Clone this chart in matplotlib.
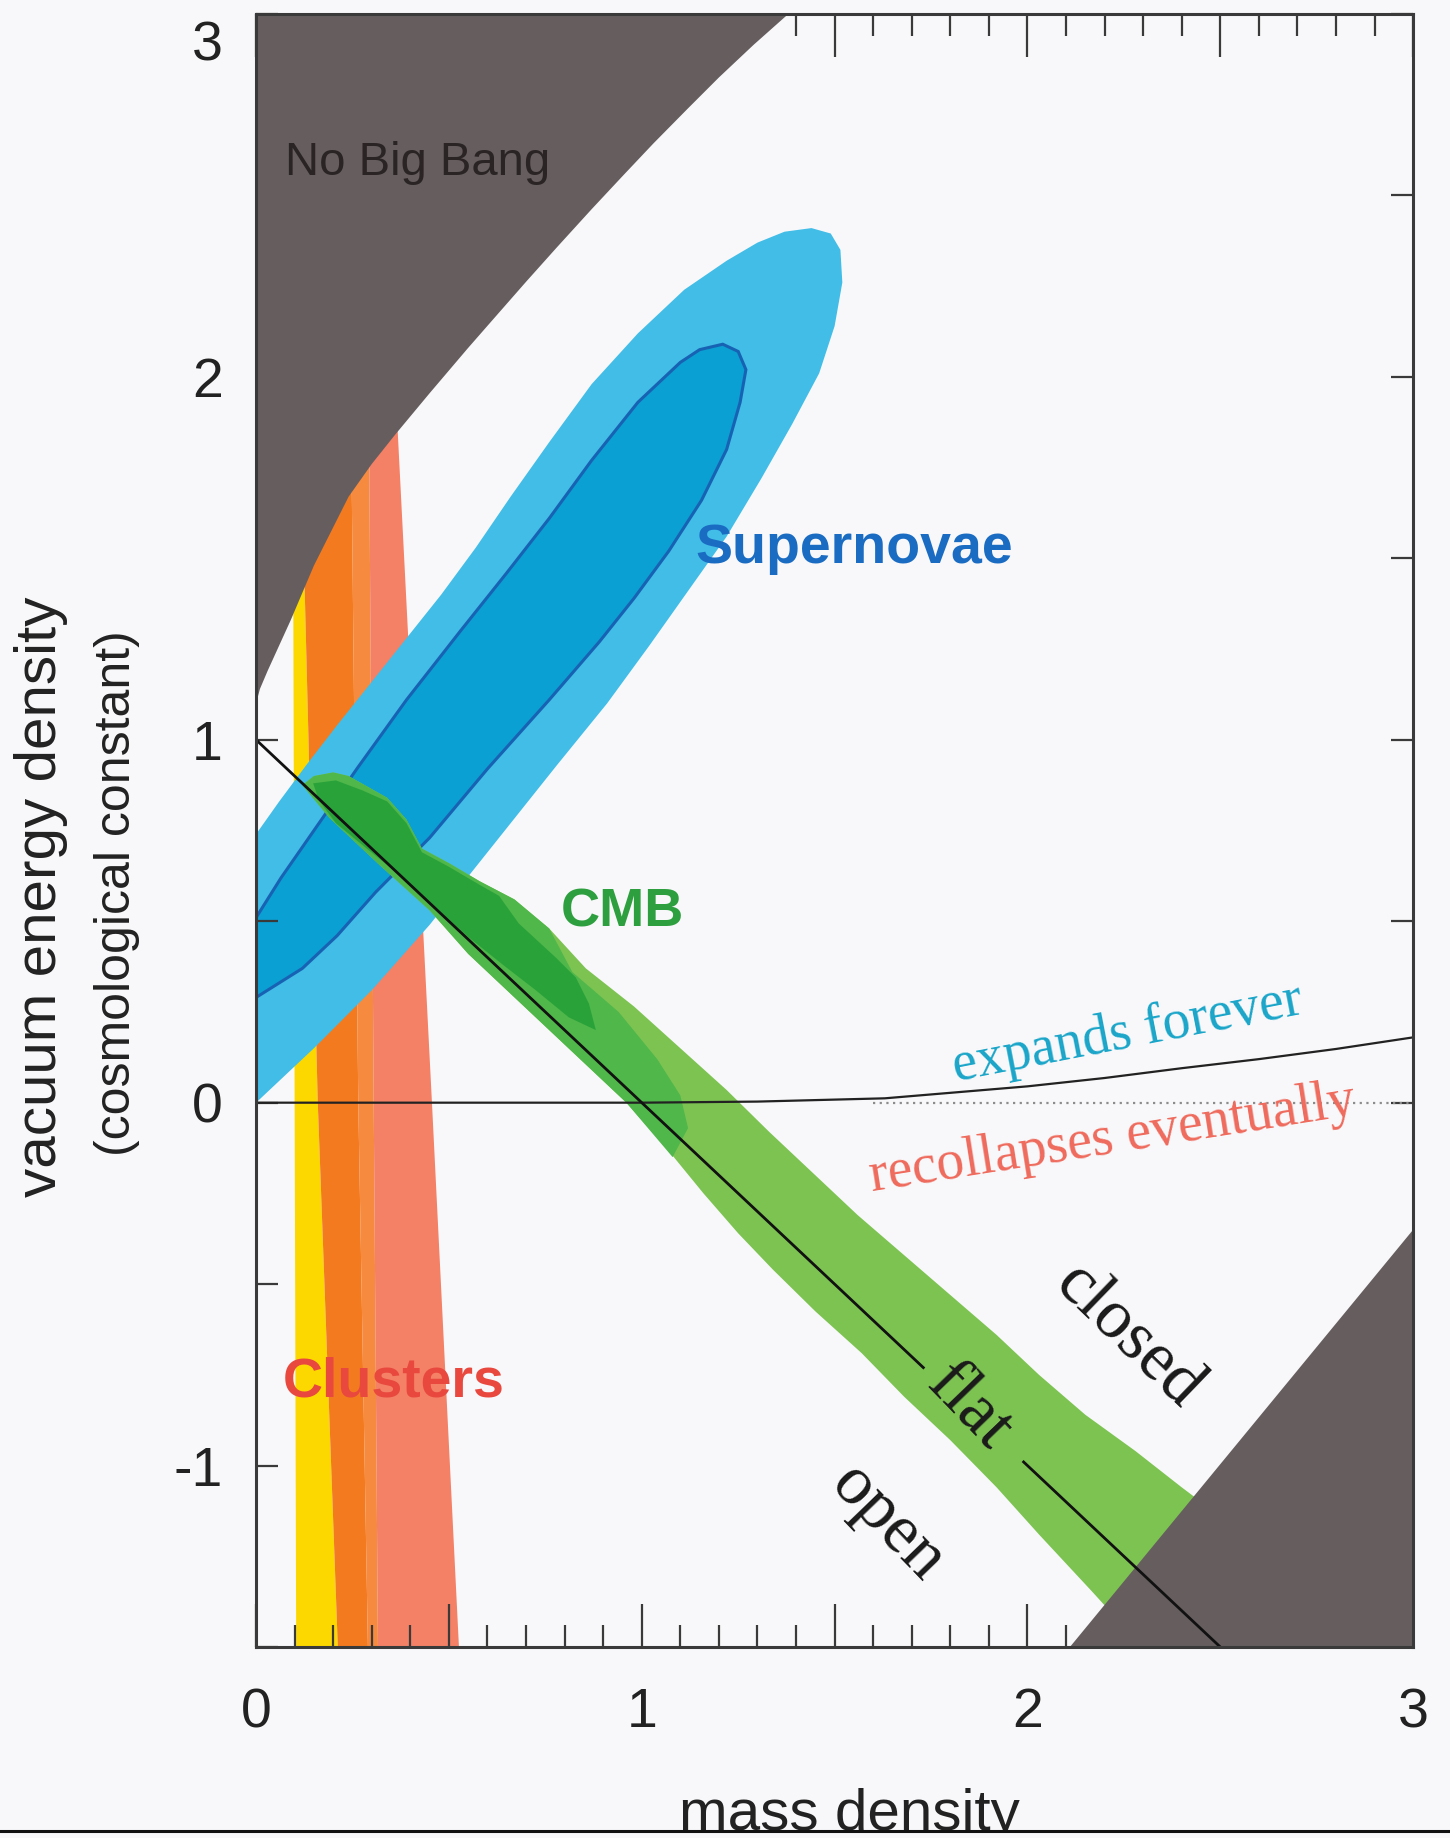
import matplotlib
matplotlib.use('Agg')
import matplotlib.pyplot as plt
from matplotlib.ticker import MultipleLocator, FuncFormatter
from matplotlib.patches import Rectangle

plt.rcParams['font.family'] = ['Liberation Sans', 'DejaVu Sans']
plt.rcParams['axes.unicode_minus'] = False

# --- values (x = mass density, y = vacuum energy density) ---

# "No Big Bang" boundary (top left)
NBB_X = [0.00, 0.01, 0.03, 0.06, 0.09, 0.15, 0.24, 0.30, 0.36, 0.45, 0.55, 0.62, 0.70, 0.78,
         0.87, 0.95, 1.03, 1.12, 1.20, 1.29, 1.38]
NBB_Y = [1.10, 1.14, 1.19, 1.26, 1.33, 1.48, 1.67, 1.76, 1.84, 1.955, 2.08, 2.165, 2.262, 2.357,
         2.462, 2.553, 2.643, 2.74, 2.825, 2.915, 3.00]

# dark corner bottom right
CORNER_X = [2.11, 3.0, 3.0]
CORNER_Y = [-1.5, -0.35, -1.5]

# clusters: band edges at these heights
CL_Y = [-1.5, 0.0, 2.0]
CL_YELLOW_L = [0.104, 0.100, 0.095]
CL_YELLOW_R = [0.212, 0.160, 0.112]
CL_ORANGE_R = [0.290, 0.265, 0.245]
CL_SALMON_L = [0.316, 0.305, 0.292]
CL_SALMON_R = [0.526, 0.456, 0.360]

# supernovae contours
SN_OUT_X = [0.00, 0.15, 0.30, 0.45, 0.60, 0.78, 0.91, 1.02, 1.12, 1.22, 1.31, 1.39, 1.46, 1.50,
            1.52, 1.515, 1.49, 1.44, 1.37, 1.30, 1.22, 1.11, 0.99, 0.87, 0.76, 0.66, 0.57,
            0.48, 0.39, 0.30, 0.21, 0.13, 0.06, 0.00]
SN_OUT_Y = [0.00, 0.15, 0.31, 0.49, 0.69, 0.93, 1.10, 1.26, 1.41, 1.56, 1.72, 1.87, 2.01, 2.14,
            2.26, 2.35, 2.395, 2.41, 2.40, 2.37, 2.32, 2.24, 2.12, 1.98, 1.82, 1.67, 1.53,
            1.40, 1.28, 1.16, 1.04, 0.93, 0.83, 0.74]
SN_IN_X = [0.00, 0.12, 0.21, 0.31, 0.45, 0.60, 0.76, 0.89, 0.98, 1.07, 1.155, 1.22, 1.255, 1.27,
           1.25, 1.21, 1.15, 1.10, 0.99, 0.87, 0.76, 0.65, 0.53, 0.39, 0.264, 0.15, 0.065, 0.00]
SN_IN_Y = [0.29, 0.37, 0.46, 0.58, 0.73, 0.92, 1.11, 1.27, 1.39, 1.52, 1.66, 1.80, 1.93, 2.02,
           2.07, 2.09, 2.075, 2.04, 1.93, 1.77, 1.61, 1.46, 1.30, 1.11, 0.924, 0.75, 0.62, 0.51]

# CMB band: upper edge (top to bottom), lower edge (bottom to top)
CMB_UP_X = [0.12, 0.15, 0.20, 0.24, 0.34, 0.39, 0.43, 0.50, 0.58, 0.67, 0.76, 0.855, 0.98,
            1.10, 1.22, 1.33, 1.45, 1.56, 1.68, 1.80, 1.92, 2.03, 2.15, 2.28, 2.40, 2.60]
CMB_UP_Y = [0.875, 0.90, 0.91, 0.90, 0.84, 0.78, 0.70, 0.66, 0.61, 0.56, 0.48, 0.37, 0.265,
            0.15, 0.035, -0.08, -0.20, -0.31, -0.42, -0.53, -0.64, -0.75, -0.86, -0.96, -1.06, -1.22]
CMB_LO_X = [2.40, 2.17, 2.03, 1.92, 1.80, 1.68, 1.57, 1.45, 1.34, 1.25, 1.16, 1.06, 0.96, 0.85,
            0.73, 0.55, 0.45, 0.32, 0.19]
CMB_LO_Y = [-1.62, -1.35, -1.19, -1.06, -0.93, -0.81, -0.69, -0.575, -0.46, -0.36, -0.25, -0.12,
            0.0, 0.11, 0.23, 0.41, 0.53, 0.655, 0.785]
# where the medium green ends (from the upper edge down to the lower edge)
CMB_MID_X = [0.82, 0.94, 1.04, 1.10, 1.12, 1.08]
CMB_MID_Y = [0.36, 0.25, 0.12, 0.02, -0.07, -0.15]
# darkest green core
CMB_CORE_X = [0.207, 0.277, 0.34, 0.39, 0.43, 0.50, 0.58, 0.63, 0.681, 0.777, 0.829, 0.863,
              0.881, 0.811, 0.725, 0.64, 0.552, 0.466, 0.38, 0.293, 0.207, 0.163, 0.148]
CMB_CORE_Y = [0.888, 0.86, 0.83, 0.77, 0.69, 0.65, 0.60, 0.57, 0.494, 0.40, 0.345, 0.273,
              0.20, 0.235, 0.31, 0.38, 0.455, 0.538, 0.62, 0.695, 0.77, 0.833, 0.88]

# expands / recollapses boundary
EXP_X = [0.0, 1.0, 1.3, 1.63, 2.0, 2.2, 2.4, 2.6, 2.8, 3.0]
EXP_Y = [0.0, 0.0, 0.003, 0.012, 0.045, 0.068, 0.095, 0.12, 0.148, 0.18]
DOT_X = [1.6, 3.0]
DOT_Y = [0.0, 0.0]

# flat universe line, broken for its label
FLAT1_X, FLAT1_Y = [0.0, 1.73], [1.0, -0.73]
FLAT2_X, FLAT2_Y = [1.99, 2.5], [-0.99, -1.5]

BG = '#F8F8FA'
GRAY = '#665E5E'

fig = plt.figure(figsize=(14.5, 18.38), dpi=100, facecolor=BG)
ax = fig.add_axes([0.1766, 0.1039, 0.798, 0.8885], facecolor=BG)
ax.set_xlim(0, 3)
ax.set_ylim(-1.5, 3)


def band(left, right):
    return list(left) + list(right[::-1]), CL_Y + CL_Y[::-1]


# clusters
ax.fill(*band(CL_YELLOW_L, CL_YELLOW_R), color='#FDD800', lw=0, zorder=1.0)
ax.fill(*band(CL_YELLOW_R, CL_ORANGE_R), color='#F47A1F', lw=0, zorder=1.0)
ax.fill(*band(CL_ORANGE_R, CL_SALMON_L), color='#F68A3E', lw=0, zorder=1.0)
ax.fill(*band(CL_SALMON_L, CL_SALMON_R), color='#F48066', lw=0, zorder=1.0)

# supernovae
ax.fill(SN_OUT_X, SN_OUT_Y, color='#41BDE7', lw=0, zorder=1.3)
ax.fill(SN_IN_X, SN_IN_Y, facecolor='#0AA0D3', edgecolor='#1862B3', lw=2.2, zorder=1.4)

# CMB
ax.fill(CMB_UP_X + CMB_LO_X, CMB_UP_Y + CMB_LO_Y, color='#7DC352', lw=0, zorder=1.6)
mid_x = CMB_UP_X[:11] + CMB_MID_X + CMB_LO_X[12:]
mid_y = CMB_UP_Y[:11] + CMB_MID_Y + CMB_LO_Y[12:]
ax.fill(mid_x, mid_y, color='#50B74A', lw=0, zorder=1.7)
ax.fill(CMB_CORE_X, CMB_CORE_Y, color='#2AA23A', lw=0, zorder=1.8)

# forbidden regions
ax.fill(NBB_X + [0.0], NBB_Y + [3.0], color=GRAY, lw=0, zorder=2.0)
ax.fill(CORNER_X, CORNER_Y, color=GRAY, lw=0, zorder=2.0)

# lines
ax.plot(EXP_X, EXP_Y, color='#222222', lw=1.6, zorder=2.2)
ax.plot(DOT_X, DOT_Y, color='#8C8C8C', lw=1.6, ls=(0, (1, 2)), zorder=2.1)
ax.plot(FLAT1_X, FLAT1_Y, color='#111111', lw=2.0, zorder=2.2)
ax.plot(FLAT2_X, FLAT2_Y, color='#111111', lw=2.0, zorder=2.2)

# labels inside the plot
ax.text(0.075, 2.555, 'No Big Bang', color='#2B2424', fontsize=34, va='baseline', zorder=3)
ax.text(1.14, 1.486, 'Supernovae', color='#1A6CC2', fontsize=40, fontweight='bold',
        va='baseline', zorder=3)
ax.text(0.79, 0.486, 'CMB', color='#2E9F3F', fontsize=39, fontweight='bold', va='baseline', zorder=3)
ax.text(0.07, -0.81, 'Clusters', color='#E8483E', fontsize=40, fontweight='bold', va='baseline',
        zorder=3)

serif = ['Liberation Serif', 'DejaVu Serif']
ax.text(2.26, 0.19, 'expands forever', color='#1AA5C8', fontsize=40, family=serif,
        rotation=11, ha='center', va='center', rotation_mode='anchor', zorder=3)
ax.text(2.22, -0.10, 'recollapses eventually', color='#EE6A5C', fontsize=40, family=serif,
        rotation=9, ha='center', va='center', rotation_mode='anchor', zorder=3)
ax.text(2.26, -0.645, 'closed', color='#1A1A1A', fontsize=50, family=serif,
        rotation=-44, ha='center', va='center', rotation_mode='anchor', zorder=3)
ax.text(1.85, -0.84, 'flat', color='#1A1A1A', fontsize=50, family=serif,
        rotation=-46, ha='center', va='center', rotation_mode='anchor', zorder=3)
ax.text(1.635, -1.16, 'open', color='#1A1A1A', fontsize=50, family=serif,
        rotation=-46, ha='center', va='center', rotation_mode='anchor', zorder=3)

# axes, ticks
for sp in ax.spines.values():
    sp.set_color('#3A3A3A')
    sp.set_linewidth(2.2)

ax.xaxis.set_major_locator(MultipleLocator(0.5))
ax.xaxis.set_minor_locator(MultipleLocator(0.1))
ax.yaxis.set_major_locator(MultipleLocator(0.5))
ax.xaxis.set_major_formatter(FuncFormatter(lambda v, p: f"{v:.0f}" if abs(v - round(v)) < 1e-6 else ''))
ax.yaxis.set_major_formatter(
    FuncFormatter(lambda v, p: f"{v:.0f}" if abs(v - round(v)) < 1e-6 and v < 2.99 else ''))
ax.tick_params(which='both', direction='in', top=True, right=True, color='#3A3A3A', width=1.6,
               labelsize=40, labelcolor='#222222')
ax.tick_params(axis='x', which='major', length=31, pad=29)
ax.tick_params(axis='x', which='minor', length=16)
ax.tick_params(axis='y', which='major', length=16, pad=24)
ax.annotate('3', xy=(0, 2.91), xycoords=('axes fraction', 'data'), xytext=(-24, 0),
            textcoords='offset points', ha='right', va='center', fontsize=40, color='#222222')

fig.text(0.028, 0.512, 'vacuum energy density', rotation=90, ha='center', va='center',
         fontsize=42, color='#222222')
fig.text(0.081, 0.514, '(cosmological constant)', rotation=90, ha='center', va='center',
         fontsize=36, color='#222222')
fig.text(0.5855, 0.0044, 'mass density', ha='center', va='baseline', fontsize=42, color='#222222')

fig.add_artist(Rectangle((0, 0), 1, 0.0038, transform=fig.transFigure, color=BG, zorder=5))
fig.add_artist(plt.Line2D([0, 1], [0.0038, 0.0038], color='#111111', lw=2.2,
                          transform=fig.transFigure, zorder=6))

fig.savefig('out.png', dpi=100, facecolor=BG)
